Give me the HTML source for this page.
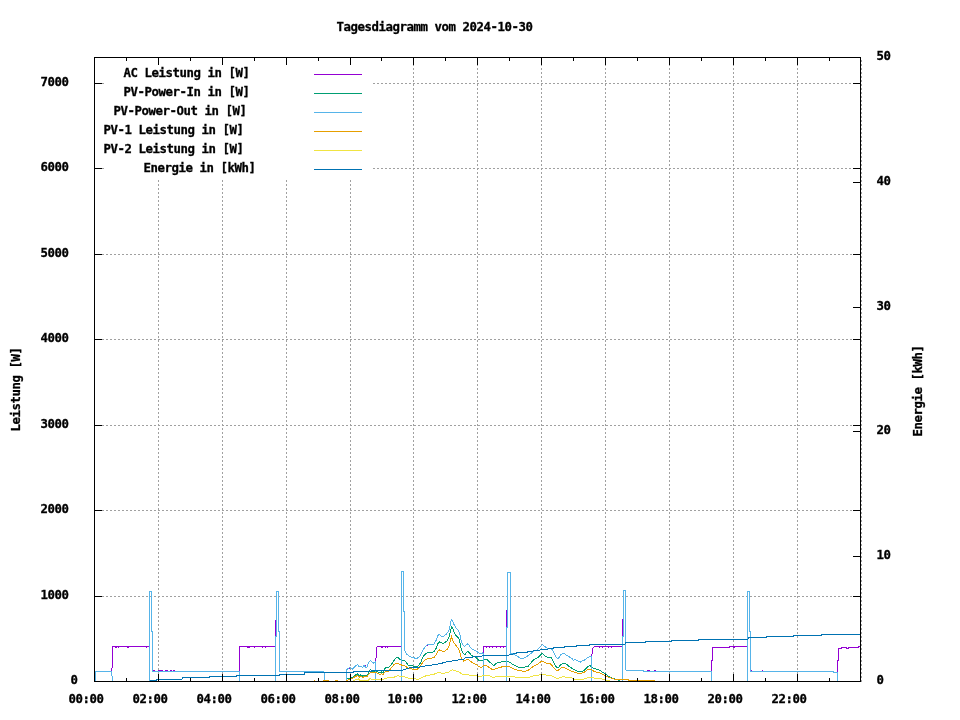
<!DOCTYPE html>
<html lang="de"><head><meta charset="utf-8"><title>Tagesdiagramm vom 2024-10-30</title>
<style>
html,body{margin:0;padding:0;background:#fff;}
body{width:960px;height:720px;overflow:hidden;}
svg{display:block;}
text{font-family:"DejaVu Sans Mono","Liberation Mono",monospace;font-weight:bold;font-size:12.350px;fill:#000;stroke:#000;stroke-width:0.3px;white-space:pre;letter-spacing:-0.4353px;}
.g{stroke:#a0a0a0;stroke-width:1;stroke-dasharray:2 2;fill:none;}
.k{stroke:#000;stroke-width:1;fill:none;}
.d{stroke-width:1;fill:none;stroke-linejoin:miter;}
</style></head><body>
<svg width="960" height="720" viewBox="0 0 960 720">
<rect x="0" y="0" width="960" height="720" fill="#fff"/>
<g shape-rendering="crispEdges">
<path class="g" d="M94 596.5H861"/>
<path class="g" d="M94 510.5H861"/>
<path class="g" d="M94 425.5H861"/>
<path class="g" d="M94 339.5H861"/>
<path class="g" d="M94 254.5H861"/>
<path class="g" d="M94 168.5H104M373 168.5H861"/>
<path class="g" d="M94 83.5H104M373 83.5H861"/>
<path class="g" d="M158.5 682V58"/>
<path class="g" d="M222.5 682V58"/>
<path class="g" d="M286.5 682V58"/>
<path class="g" d="M350.5 682V58"/>
<path class="g" d="M413.5 682V58"/>
<path class="g" d="M477.5 682V58"/>
<path class="g" d="M541.5 682V58"/>
<path class="g" d="M605.5 682V58"/>
<path class="g" d="M669.5 682V58"/>
<path class="g" d="M733.5 682V58"/>
<path class="g" d="M797.5 682V58"/>
<path class="g" d="M861.5 682V58"/>
<rect x="104" y="58" width="269" height="121" fill="#fff"/>
<path class="d" stroke="#9400d3" d="M111.5 671.5 L111.5 668.5 L112.5 667.5 L112.5 646.5 L149.5 646.5"/>
<path class="d" stroke="#9400d3" d="M153 670.5 L155 670.5"/>
<path class="d" stroke="#9400d3" d="M158 670.5 L163 670.5"/>
<path class="d" stroke="#9400d3" d="M164.5 670.5 L168 670.5"/>
<path class="d" stroke="#9400d3" d="M169.5 670.5 L171.5 670.5"/>
<path class="d" stroke="#9400d3" d="M173 670.5 L175 670.5"/>
<path class="d" stroke="#9400d3" d="M239.5 671.5 L239.5 646.5 L275.5 646.5 L275.5 619.5"/>
<path class="d" stroke="#9400d3" d="M375.5 661.5 L376.5 655 L376.5 647.5 L377.5 646.5 L401.5 646.5"/>
<path class="d" stroke="#9400d3" d="M483.5 652.5 L483.5 646.5 L506.5 646.5 L506.5 610"/>
<path class="d" stroke="#9400d3" d="M591.5 656.5 L592.5 651 L592.5 648.5 L593.5 647.5 L594.5 646.5 L622.5 646.5 L622.5 618.5"/>
<path class="d" stroke="#9400d3" d="M647 670.5 L650 670.5"/>
<path class="d" stroke="#9400d3" d="M654 670.5 L656 670.5"/>
<path class="d" stroke="#9400d3" d="M711.5 671.5 L711.5 660 L712.5 660 L712.5 647.5 L729 647.5 L729 646.5 L747.5 646.5"/>
<path class="d" stroke="#9400d3" d="M751 670.5 L752 670.5"/>
<path class="d" stroke="#9400d3" d="M762 670.5 L763 670.5"/>
<path class="d" stroke="#9400d3" d="M837.5 671.5 L837.5 660 L838.5 660 L838.5 648.5 L841 648.5 L841 647.5 L846 647.5 L846 648.5 L848 648.5 L848 647.5 L858 647.5 L858 646.5 L860.5 646.5"/>
<path fill="#9400d3" d="M115 647h1v1h-1zM116 647h1v1h-1zM118 647h1v1h-1zM127 647h1v1h-1zM128 647h1v1h-1zM146 647h1v1h-1zM247 647h1v1h-1zM248 647h1v1h-1zM249 647h1v1h-1zM254 647h1v1h-1zM262 647h1v1h-1zM265 647h1v1h-1zM381 647h1v1h-1zM382 647h1v1h-1zM385 647h1v1h-1zM387 647h1v1h-1zM486 647h1v1h-1zM489 647h1v1h-1zM492 647h1v1h-1zM496 647h1v1h-1zM500 647h1v1h-1zM503 647h1v1h-1zM599 647h1v1h-1zM602 647h1v1h-1zM608 647h1v1h-1zM611 647h1v1h-1zM733 647h1v1h-1zM734 647h1v1h-1z"/>
<path class="d" stroke="#009e73" d="M346.5 679 L349 678.5 L351 678.5 L353.5 676.5 L355.5 675 L357.5 674 L359 675.5 L360.5 675 L362 676.5 L364 675 L366 675.5 L367.5 675 L369 671.5 L370.5 669.5 L372 671 L374 671.5 L376 671 L378 672 L380 673 L381.5 672 L383 673 L385 668.5 L386 667.5 L388 668 L390 666 L392 663.5 L394 660.5 L396 658 L397.5 657.3 L399 658.5 L400 659.5 L402 660.5 L405 660.8 L406.5 663 L408 665 L410 665.5 L413 666 L415 666.7 L417 667 L419 665 L420.5 663 L422 659 L424 655.5 L426 653.5 L428 652.5 L430 652 L432 652.5 L434 651.5 L436 648.5 L438 643.5 L439.5 642 L441 642.5 L443 643.5 L445 642.5 L447 641 L449 637 L450.5 631 L451.5 626.5 L452.5 628 L454 632 L456 635.5 L458 637.5 L459.5 640 L460.5 646 L462 651 L463.5 653.5 L465 654.5 L466.5 652.5 L468 651.5 L469.5 653 L471 655 L473 656.5 L475 657 L477 658.5 L479 660.5 L481 661 L483 660.5 L485 659.5 L487 659.5 L489 661.5 L491 663 L492.5 664.5 L494 665.5 L495.5 664 L497 663 L499 662.5 L501 662 L503 661.5 L505 661.3 L508 661.5 L510 662.5 L512 664 L514 665 L516 666 L518 667 L520 667.5 L523 667.5 L525 667 L528 666.5 L530 664 L532 661.5 L534 659.5 L536 658.5 L538 657.5 L540 655.5 L542 653.5 L543.5 654.5 L545 656 L547 657 L549 657.5 L551 657.5 L552.5 660 L554 663 L555.5 666 L557 667.5 L558.5 667.5 L560 665.5 L562 664 L564 663.5 L566 664 L568 665.5 L570 667 L572 668.5 L574 669.5 L576 670.5 L578 671.5 L580 672 L582 671.5 L584 670.5 L586 668.5 L588 666.5 L590 665.5 L592 667.5 L594 668.5 L596 669 L598 669.5 L600 670.3 L602 672 L604 673 L606 674.5 L608 676 L610 677 L612 678 L614 678.5 L616 679.5 L620 680.5"/>
<path class="d" stroke="#56b4e9" d="M95.5 681.5 L95.5 671.5 L111.5 671.5 L111.5 675.5 L112.5 676.5 L112.5 681.5 L149.5 681.5 L149.5 591.5 L151.5 591.5 L151.5 631.5 L152.5 631.5 L152.5 671.5 L239.5 671.5 L239.5 681.5 L275.5 681.5 L275.5 636.5 L276.5 636.5 L276.5 591.5 L278.5 591.5 L278.5 631.5 L279.5 631.5 L279.5 671.5 L324 671.5 L324.5 681.5 L346.5 681.5 L346.5 669.4 L347 669.4 L350 667.3 L352.5 669 L355 666.5 L357.5 664.5 L359 667 L361 666 L362.5 667.5 L364 665.5 L365.5 667 L367 667 L368.5 663 L370.5 660.3 L372 662 L373.5 663 L375.5 661.5 L375.7 681.5 L401.5 681.5 L401.5 571.5 L403.5 571.5 L403.5 611.5 L404.5 611.5 L404.5 650 L405.5 652.5 L407 654.5 L409 656 L411 657 L413 657 L415 658.3 L417 658.3 L419 657 L420.5 655.5 L422 652 L424 648.5 L426 646 L428 644.5 L430 644 L432 644.5 L434 644 L436 640.5 L438 635.5 L439 634 L440.5 635.5 L442 636.5 L444 636 L446 634.5 L448 632 L449.5 629 L450.5 623 L451.5 619.5 L452.5 621 L454 624.5 L456 628 L458 630 L459.5 632.5 L460.5 638 L461.5 642.5 L463 645 L464.5 646.5 L466 645 L467.5 644 L469 645 L470 647 L472 649 L474 650 L476 651 L478 652.5 L480 653.5 L482 653.5 L483 652.5 L483.5 681.5 L506.5 681.5 L506.5 627.5 L507.5 627.5 L507.5 572.5 L510.5 572.5 L510.5 653.5 L512 653.5 L514 654.5 L515.5 655.5 L517 656 L519 657.5 L521 658.5 L523 658.5 L525 657.5 L527 656.5 L529 655 L531 653.5 L533 651.5 L535 650.5 L537 650 L538.5 648.5 L540 647 L541.5 645.5 L542.5 644.5 L544 646 L546 647.5 L548 648.5 L550 648.5 L552 649.5 L553.5 652 L555 655 L556.5 657.5 L558 658.5 L559.5 657 L561 654.5 L562.5 653.5 L564 653.5 L566 655 L568 656 L570 657.5 L572 658.5 L573.5 660.5 L575 659.5 L577 660.5 L579 661.5 L580.5 662 L582 661 L584 660.5 L586 659 L588 657.5 L590 656.5 L591.5 657 L591.5 681.5 L622.5 681.5 L622.5 636.5 L623.5 636.5 L623.5 590.5 L625.5 590.5 L625.5 669.5 L627 670.5 L643 670.5 L643.5 671.5 L711.5 671.5 L711.5 681.5 L747.5 681.5 L747.5 591.5 L749.5 591.5 L749.5 631.5 L750.5 631.5 L750.5 671.5 L833 671.5 L833 672.5 L837.5 672.5 L837.5 681.5 L860.5 681.5"/>
<path fill="#9400d3" d="M349 668h1v1h-1zM365 665h1v1h-1zM427 645h1v1h-1z"/>
<path class="d" stroke="#e69f00" d="M313.5 680.5 L315 680.5"/>
<path class="d" stroke="#e69f00" d="M323 680.5 L329 680.5"/>
<path class="d" stroke="#e69f00" d="M335 680.5 L338 680.5"/>
<path class="d" stroke="#e69f00" d="M346.5 680.5 L349 679.5 L351.5 679 L353.5 677.5 L355.5 676.5 L357.5 675.5 L359.5 677 L361 676.5 L362.5 677.5 L364.5 676.5 L367 676.5 L369 674 L370.5 672.5 L372 673 L374 672.5 L376 672.5 L378 673.5 L380 674.5 L381.5 673.5 L383 675 L384.5 672.5 L386 671.5 L388 671.5 L390 669.5 L392 667 L394 664.5 L396 663.5 L398 663.5 L400 664.5 L403 665.5 L405 666 L407 667.5 L409 668.5 L411 668.5 L413 669.3 L415 669.5 L417 669.5 L419 668 L420.5 666 L422 663.5 L424 661 L426 659.5 L428 658.5 L430 658.5 L432 658 L434 657.5 L436 655 L438 651 L439.5 650 L441 650.5 L443 651.5 L445 651 L447 649.5 L449 646 L450.5 640 L451.5 637 L452.5 640 L454 643 L456 645.5 L458 648 L459.5 651 L460.5 655.5 L462 659 L463.5 661 L465 660.5 L467 659.5 L468.5 659.5 L470 661 L472 662.5 L474 663.5 L476 664.5 L478 666 L480 667 L482 667 L484 665.5 L486 665.5 L488 666.5 L490 668 L492 669.5 L494 669.5 L496 668.5 L498 668 L500 667.5 L503 666.5 L506 666.3 L509 666.5 L511 667.5 L513 668.5 L515 669.5 L517 670 L520 670.5 L523 671.3 L526 671 L528 670.5 L530 669 L532 667.5 L534 666 L536 665 L538 664 L540 662.5 L542 661 L544 662 L546 663 L548 663.5 L550 663.5 L552 665.5 L554 668 L556 670 L558 670.5 L560 669 L562 667.5 L564 667.5 L566 668.5 L568 669.5 L570 670.5 L572 671.3 L574 672 L576 672.5 L578 673.3 L580 673.5 L582 673 L584 672.5 L586 671 L588 669.5 L590 669 L592 670 L594 671.5 L596 672 L598 672.5 L600 673 L602 674 L604 675 L606 676 L608 677 L610 677.5 L612 678.5 L614 679 L617 679.5 L625 679.5 L632 680.5 L655 680.5"/>
<path class="d" stroke="#f0e442" d="M353 680.5 L357 679.5 L358.5 679 L360 680.5 L368 680.5 L370 678.5 L372 679.5 L376 679.5 L380 679.5 L384 679 L387 678 L390 677.5 L393 677.5 L396 676.5 L398 675.7 L400 676.5 L404 676.5 L406 677.5 L408 678 L412 678.3 L415 678.5 L417 679.3 L419 679 L421 678 L424 676.5 L427 675.5 L430 675 L433 674.5 L436 673.5 L438 672.5 L441 673 L445 673 L447 672.5 L449 672 L451 670.5 L452.5 669.5 L454 670.5 L456 671 L458 671.5 L460 672.5 L462 674 L464 674.5 L467 674.5 L469 675 L471 675.5 L474 675.5 L477 676 L480 676 L482 676 L484 675.3 L487 675.5 L490 676 L492 677 L494 677.3 L496 676.5 L500 676 L505 676 L510 676 L513 676.5 L515 677 L518 677 L522 677.3 L526 677 L530 677 L533 676 L536 675.5 L539 675 L542 674.5 L546 675 L550 675.5 L552 676 L554 677 L556 678 L558 678.5 L560 677.5 L562 677 L564 676.5 L566 677.3 L568 677.5 L572 678 L574 679 L578 679.3 L582 679.3 L584 679 L586 678.5 L588 677.5 L591 677.5 L594 678 L598 678.5 L602 679 L604 679.5 L606 680.5 L610 680.5"/>
<path class="d" stroke="#0072b2" d="M149.5 680.5 L156 680.5 L156 679.5 L182 679.5 L182.5 677.5 L209 677.5 L209.5 676.5 L236 676.5 L236.5 675.5 L279 675.5 L279.5 674.5 L304.5 674.5 L305 672.5 L353 672.5 L353.5 671.5 L371 671.5 L371.5 670.5 L402 670.5 L404 669.5 L406 669 L409 668 L411 667.5 L420 667 L422 666.5 L428 665.5 L432 665 L436 664.5 L438 664 L442 663.5 L443 662.5 L446 662 L449 661.5 L452 661 L455 660.5 L458 660 L461 659.5 L464 659 L465 658 L470 657.5 L473 657 L476 656.5 L479 656.5 L482 656 L483 655.5 L506 655.5 L509 655 L510 654.5 L516 653.5 L517 652.5 L526 652.5 L529 651.5 L533 651 L536 650.5 L540 650 L543 649.5 L548 649 L550 648.5 L553 648.5 L554 647.5 L564 647.5 L565 646.5 L576 646.5 L577 645.5 L589 645.5 L590 644.5 L623 644.5 L625 644 L626 642.5 L645 642.5 L646 641.5 L671 641.5 L672 640.5 L698 640.5 L699 639.5 L747.5 639.5 L749 637.5 L766 637.5 L767 636.5 L793 636.5 L794 635.5 L821 635.5 L822 634.5 L860.5 634.5"/>
<path class="d" stroke="#9400d3" d="M314 74.5H362"/>
<path class="d" stroke="#009e73" d="M314 93.5H362"/>
<path class="d" stroke="#56b4e9" d="M314 112.5H362"/>
<path class="d" stroke="#e69f00" d="M314 131.5H362"/>
<path class="d" stroke="#f0e442" d="M314 150.5H362"/>
<path class="d" stroke="#0072b2" d="M314 169.5H362"/>
<rect class="k" x="94.5" y="57.5" width="766" height="624"/>
<path class="k" d="M94 681.5h8M861 681.5h-8M94 596.5h8M861 596.5h-8M94 510.5h8M861 510.5h-8M94 425.5h8M861 425.5h-8M94 339.5h8M861 339.5h-8M94 254.5h8M861 254.5h-8M94 168.5h8M861 168.5h-8M94 83.5h8M861 83.5h-8M861 681.5h-8M861 556.5h-8M861 431.5h-8M861 307.5h-8M861 182.5h-8M861 57.5h-8M94.5 682v-8M94.5 57v8M126.5 682v-4M126.5 57v4M158.5 682v-8M158.5 57v8M190.5 682v-4M190.5 57v4M222.5 682v-8M222.5 57v8M254.5 682v-4M254.5 57v4M286.5 682v-8M286.5 57v8M318.5 682v-4M318.5 57v4M350.5 682v-8M350.5 57v8M381.5 682v-4M381.5 57v4M413.5 682v-8M413.5 57v8M445.5 682v-4M445.5 57v4M477.5 682v-8M477.5 57v8M509.5 682v-4M509.5 57v4M541.5 682v-8M541.5 57v8M573.5 682v-4M573.5 57v4M605.5 682v-8M605.5 57v8M637.5 682v-4M637.5 57v4M669.5 682v-8M669.5 57v8M701.5 682v-4M701.5 57v4M733.5 682v-8M733.5 57v8M765.5 682v-4M765.5 57v4M797.5 682v-8M797.5 57v8M829.5 682v-4M829.5 57v4"/>
</g>
<text x="336.5" y="31" xml:space="preserve">Tagesdiagramm vom 2024-10-30</text>
<text x="70.5" y="684" xml:space="preserve">0</text>
<text x="40.5" y="599" xml:space="preserve">1000</text>
<text x="40.5" y="513" xml:space="preserve">2000</text>
<text x="40.5" y="428" xml:space="preserve">3000</text>
<text x="40.5" y="342" xml:space="preserve">4000</text>
<text x="40.5" y="257" xml:space="preserve">5000</text>
<text x="40.5" y="171" xml:space="preserve">6000</text>
<text x="40.5" y="86" xml:space="preserve">7000</text>
<text x="876.5" y="684" xml:space="preserve">0</text>
<text x="876.5" y="559" xml:space="preserve">10</text>
<text x="876.5" y="434" xml:space="preserve">20</text>
<text x="876.5" y="310" xml:space="preserve">30</text>
<text x="876.5" y="185" xml:space="preserve">40</text>
<text x="876.5" y="60" xml:space="preserve">50</text>
<text x="68.5" y="703" xml:space="preserve">00:00</text>
<text x="132.5" y="703" xml:space="preserve">02:00</text>
<text x="196.5" y="703" xml:space="preserve">04:00</text>
<text x="260.5" y="703" xml:space="preserve">06:00</text>
<text x="324.5" y="703" xml:space="preserve">08:00</text>
<text x="387.5" y="703" xml:space="preserve">10:00</text>
<text x="451.5" y="703" xml:space="preserve">12:00</text>
<text x="515.5" y="703" xml:space="preserve">14:00</text>
<text x="579.5" y="703" xml:space="preserve">16:00</text>
<text x="643.5" y="703" xml:space="preserve">18:00</text>
<text x="707.5" y="703" xml:space="preserve">20:00</text>
<text x="771.5" y="703" xml:space="preserve">22:00</text>
<text x="123.5" y="77" xml:space="preserve">AC Leistung in [W]</text>
<text x="123.5" y="96" xml:space="preserve">PV-Power-In in [W]</text>
<text x="113.5" y="115" xml:space="preserve">PV-Power-Out in [W]</text>
<text x="103.5" y="134" xml:space="preserve">PV-1 Leistung in [W]</text>
<text x="103.5" y="153" xml:space="preserve">PV-2 Leistung in [W]</text>
<text x="143.5" y="172" xml:space="preserve">Energie in [kWh]</text>
<text transform="translate(20 431.5) rotate(-90)" xml:space="preserve">Leistung [W]</text>
<text transform="translate(922 436.5) rotate(-90)" xml:space="preserve">Energie [kWh]</text>
</svg>
</body></html>
